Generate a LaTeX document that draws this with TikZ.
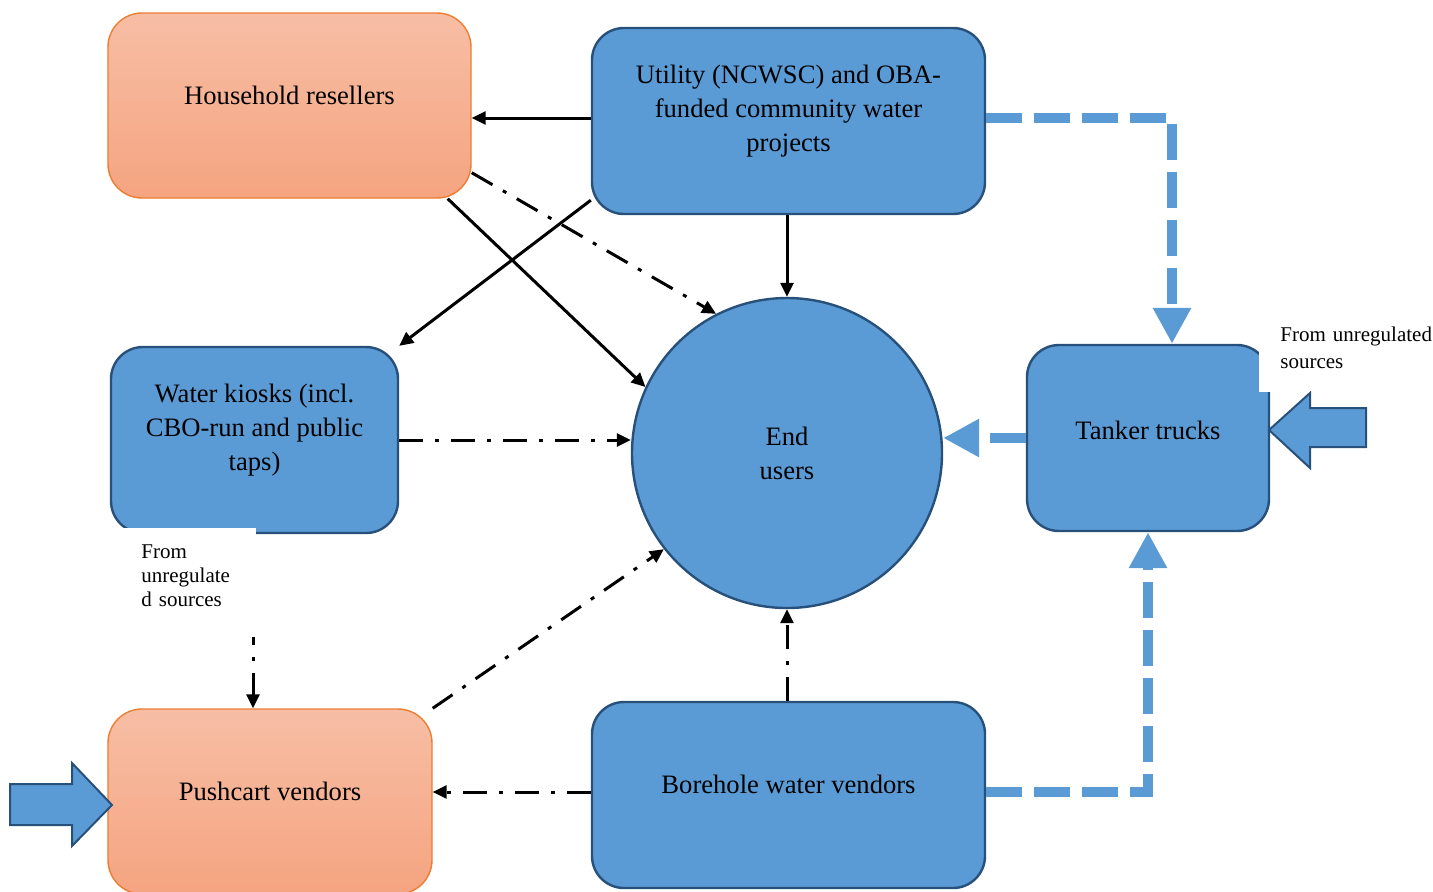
\documentclass[tikz,border=0pt]{standalone}
\usepackage{fontspec}
\setmainfont{Liberation Serif}
\usetikzlibrary{arrows.meta}
\definecolor{boxblue}{HTML}{5B9BD5}
\definecolor{boxedge}{HTML}{27507B}
\definecolor{hhtop}{HTML}{F7BEA5}
\definecolor{hhbot}{HTML}{F5A480}
\definecolor{orangeedge}{HTML}{ED7D31}
\begin{document}
\begin{tikzpicture}[x=0.5pt,y=-0.5pt,
    bluebox/.style={draw=boxedge, line width=1.2pt, fill=boxblue, rounded corners=16pt},
    orangebox/.style={draw=orangeedge, line width=0.7pt, top color=hhtop, bottom color=hhbot, rounded corners=17pt},
    boxtext/.style={font=\fontsize{13.3}{17}\selectfont, align=center, inner sep=0pt},
    srclabel/.style={fill=white, align=left},
    arr/.style={line width=1.5pt, -{Triangle[length=7pt,width=6.5pt]}},
    dasharr/.style={arr, dash pattern=on 12pt off 6pt on 2pt off 6pt},
    bluearr/.style={draw=boxblue, line width=5pt, dash pattern=on 18pt off 6pt, -{Triangle[length=18pt,width=18pt]}},
    blockarrow/.style={draw=boxedge, line width=1pt, fill=boxblue, line join=miter}]
    \useasboundingbox (0,0) rectangle (1433,891);

    % boxes
    \node[orangebox, minimum width=181.5pt, minimum height=92.5pt] (hh) at (289.5,105.5) {};
    \node[bluebox, minimum width=196.5pt, minimum height=93pt] (util) at (788.5,121) {};
    \node[bluebox, minimum width=143.5pt, minimum height=93pt] (kiosk) at (254.5,440) {};
    \node[bluebox, minimum width=121pt, minimum height=93pt] (tanker) at (1148,438) {};
    \node[orangebox, minimum width=162pt, minimum height=92.5pt] (push) at (270,801.5) {};
    \node[bluebox, minimum width=196.5pt, minimum height=93pt] (bore) at (788.5,795) {};
    \node[circle, draw=boxedge, line width=1.2pt, fill=boxblue, minimum size=155pt, boxtext] (end) at (787,453) {End\\users};

    \node[boxtext] (hhT) at ([yshift=5pt]hh.center) {Household resellers};
    \node[boxtext] (utilT) at ([yshift=5pt]util.center) {Utility (NCWSC) and OBA-\\funded community water\\projects};
    \node[boxtext] (kioskT) at ([yshift=5pt]kiosk.center) {Water kiosks (incl.\\CBO-run and public\\taps)};
    \node[boxtext] (tankerT) at ([yshift=4pt]tanker.center) {Tanker trucks};
    \node[boxtext] (pushT) at ([yshift=5pt]push.center) {Pushcart vendors};
    \node[boxtext] (boreT) at ([yshift=5.5pt]bore.center) {Borehole water vendors};

    % labels of outside sources
    \node[srclabel, text width=80pt, inner xsep=10.5pt, inner ysep=11.5pt, font=\fontsize{10.5}{13.5}\selectfont, anchor=south west] (srcR) at (1259,392) {From unregulated\\sources};
    \node[srclabel, text width=42pt, inner xsep=15.5pt, inner ysep=8pt, font=\fontsize{10.5}{12.2}\selectfont, anchor=north west] (srcL) at (110,528) {From\\unregulate\\d sources};

    % block arrows
    \draw[blockarrow] (1269,430) -- (1310,393) -- (1310,408) -- (1366,408) -- (1366,447) -- (1310,447) -- (1310,468) -- cycle;
    \draw[blockarrow] (112,805) -- (72,763) -- (72,784) -- (10,784) -- (10,825) -- (72,825) -- (72,846) -- cycle;

    \coordinate (utilW) at ([yshift=1.5pt]util.west);
    \coordinate (utilE) at ([yshift=1.5pt]util.east);
    \coordinate (boreW) at ([yshift=1.5pt]bore.west);
    \coordinate (boreE) at ([yshift=1.5pt]bore.east);
    \coordinate (src) at (253,637);

    % solid flows
    \draw[arr] (utilW) -- (utilW -| hh.east);
    \draw[arr] (end.north |- util.south) -- (end.north);
    \draw[arr] ([yshift=7.5pt]util.south west) -- (kiosk.north east);
    \draw[arr] ([xshift=-12pt]hh.south east) -- (end.155);

    % dash-dot flows
    \draw[dasharr] ([yshift=13pt]hh.south east) -- (end.117);
    \draw[dasharr] (kiosk.east) -- (kiosk.east -| end.west);
    \draw[dasharr] (push.north east) -- (end.218);
    \draw[dasharr] (end.south |- bore.north) -- (end.south);
    \draw[dasharr] (boreW) -- (boreW -| push.east);
    \draw[dasharr, dash phase=8pt] (src) -- (src |- push.north);

    % tanker flows
    \draw[bluearr] (utilE) -| ([xshift=12pt]tanker.north);
    \draw[bluearr] (tanker.west) -- (tanker.west -| end.east);
    \draw[bluearr] (boreE) -| (tanker.south);
\end{tikzpicture}
\end{document}
